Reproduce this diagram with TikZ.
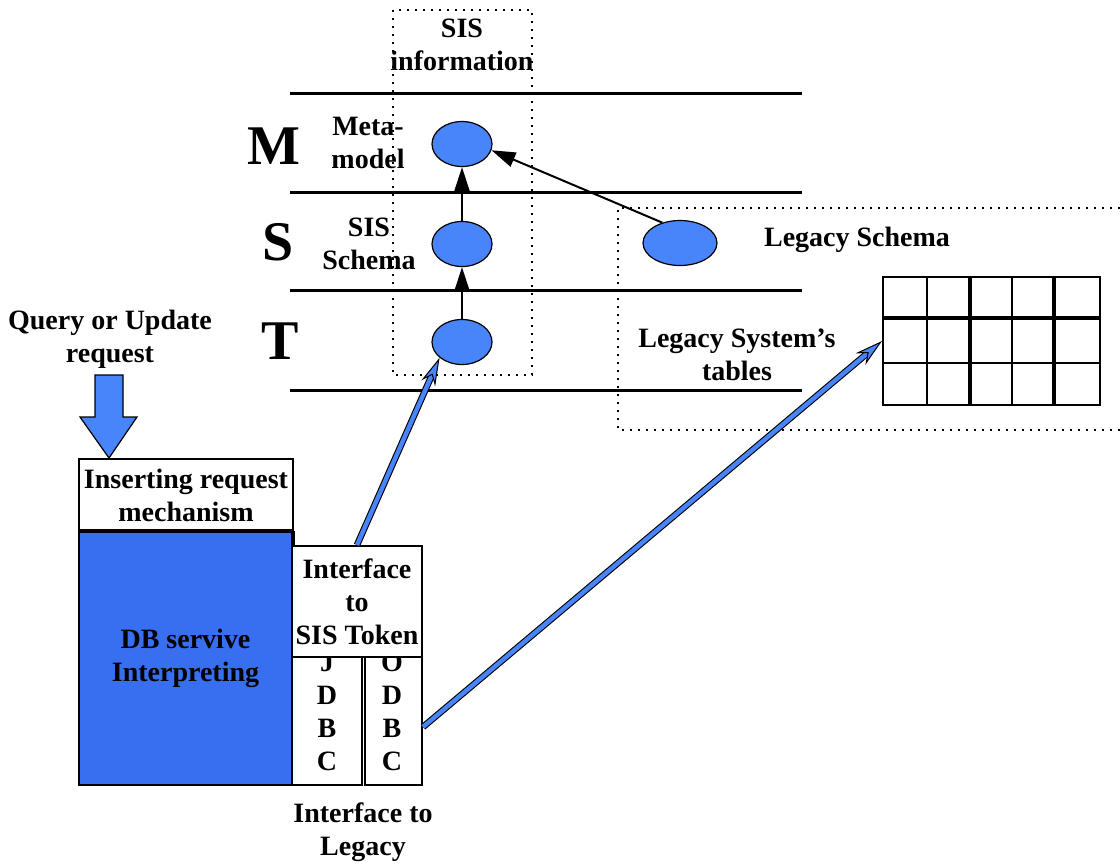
\documentclass[tikz,border=0pt]{standalone}
\usepackage{fontspec}
\setmainfont{Liberation Serif}
\usetikzlibrary{arrows.meta,shapes.geometric}
\definecolor{eblue}{RGB}{72,132,250}
\definecolor{dbblue}{RGB}{56,110,240}
\tikzset{
  lbl/.style={font=\bfseries\fontsize{28}{33}\selectfont, align=center, inner sep=0pt},
  big/.style={font=\bfseries\fontsize{56}{60}\selectfont, inner sep=0pt},
  ell/.style={ellipse, draw=black, line width=1.2pt, fill=eblue, minimum width=60pt, minimum height=45pt, inner sep=0pt},
  level/.style={line width=3pt},
  dotbox/.style={line width=1.6pt, dash pattern=on 1.6pt off 6.4pt},
  arr/.style={line width=2pt, -{Triangle[length=24pt,width=15pt]}},
  barrow/.style={draw=eblue, line width=4.4pt,
    -{Stealth[length=28pt,width=15pt,fill=eblue,color=black,line width=1pt]},
    preaction={draw=black, line width=6.6pt, -, shorten >=20pt}},
  box/.style={draw=black, line width=2pt, fill=white, inner sep=0pt, font=\bfseries\fontsize{28}{33}\selectfont, align=center},
  gridline/.style={line width=2pt},
  thickgrid/.style={line width=3.2pt},
}
\begin{document}
\begin{tikzpicture}[x=1pt,y=-1pt]
\useasboundingbox[fill=white] (0,0) rectangle (1120,863);
% level lines
\foreach \y in {93,192,290,390} \draw[level] (290,\y) -- (802,\y);
% dotted frames
\draw[dotbox] (393,10) rectangle (532,375);
\draw[dotbox] (1120,208) -- (618,208) -- (618,430) -- (1120,430);
% labels of the levels
\node[lbl] (sisinfo) at (462,45) {SIS\\information};
\node[big] (lm) at (274,146) {M};
\node[big] (ls) at (278,242) {S};
\node[big] (lt) at (280,341) {T};
\node[lbl] (meta) at (368,143) {Meta-\\model};
\node[lbl] (sisschema) at (369,244) {SIS\\Schema};
% ellipses
\node[ell] (m) at (462,144) {};
\node[ell] (s) at (462,244) {};
\node[ell] (t) at (462,342) {};
\node[ell, minimum width=74pt, minimum height=45pt] (leg) at (680,243) {};
\draw[arr] (t) -- (s);
\draw[arr] (s) -- (m);
\draw[arr] (leg.131) -- (m.-12);
% legacy side
\node[lbl] (legschema) at (857,240) {Legacy Schema};
\node[lbl] (legtables) at (737,355) {Legacy System's\\tables};
\node[draw, line width=2pt, minimum width=217pt, minimum height=128pt, inner sep=0pt] (tbl) at (991.5,341) {};
\foreach \x in {926.7,1011.7} \draw[gridline] (\x,277) -- (\x,405);
\foreach \x in {970,1054} \draw[thickgrid] (\x,277) -- (\x,405);
\draw[thickgrid] (883,318) -- (1100,318);
\draw[gridline] (883,363) -- (1100,363);
% request
\node[lbl] (query) at (110,339) {Query or Update\\request};
\node[box, minimum width=214pt, minimum height=73pt] (ins) at (186,495.5) {Inserting request\\mechanism};
\draw[fill=eblue, line width=1.2pt] (95,375) -- (123,375) -- (123,417) -- (137,417) -- (ins.north -| 109,0) -- (80,417) -- (95,417) -- cycle;
\node[box, fill=dbblue, minimum width=213pt, minimum height=253pt] (db) at (185.5,658.5) {DB servive\\Interpreting};
\draw[line width=3.5pt] (db.north west) -- (db.north east);
\draw[line width=3pt] (db.north east) -- (db.south east);
% JDBC / ODBC
\node[box, minimum width=70pt, minimum height=128pt] (jdbc) at (327,721) {};
\node[box, minimum width=57pt, minimum height=128pt] (odbc) at (393.5,721) {};
\node[lbl] (jtxt) at (327,712) {J\\D\\B\\C};
\node[lbl] (otxt) at (392,712) {O\\D\\B\\C};
\node[box, minimum width=130pt, minimum height=111pt] (tok) at (357,601.5) {Interface\\to\\SIS Token};
\node[lbl] (legacy) at (363,832) {Interface to\\Legacy};
% blue connectors
\draw[barrow] (tok.north) -- (t.215);
\draw[barrow] ([yshift=-6pt]odbc.east) -- (tbl.west);
\end{tikzpicture}
\end{document}
